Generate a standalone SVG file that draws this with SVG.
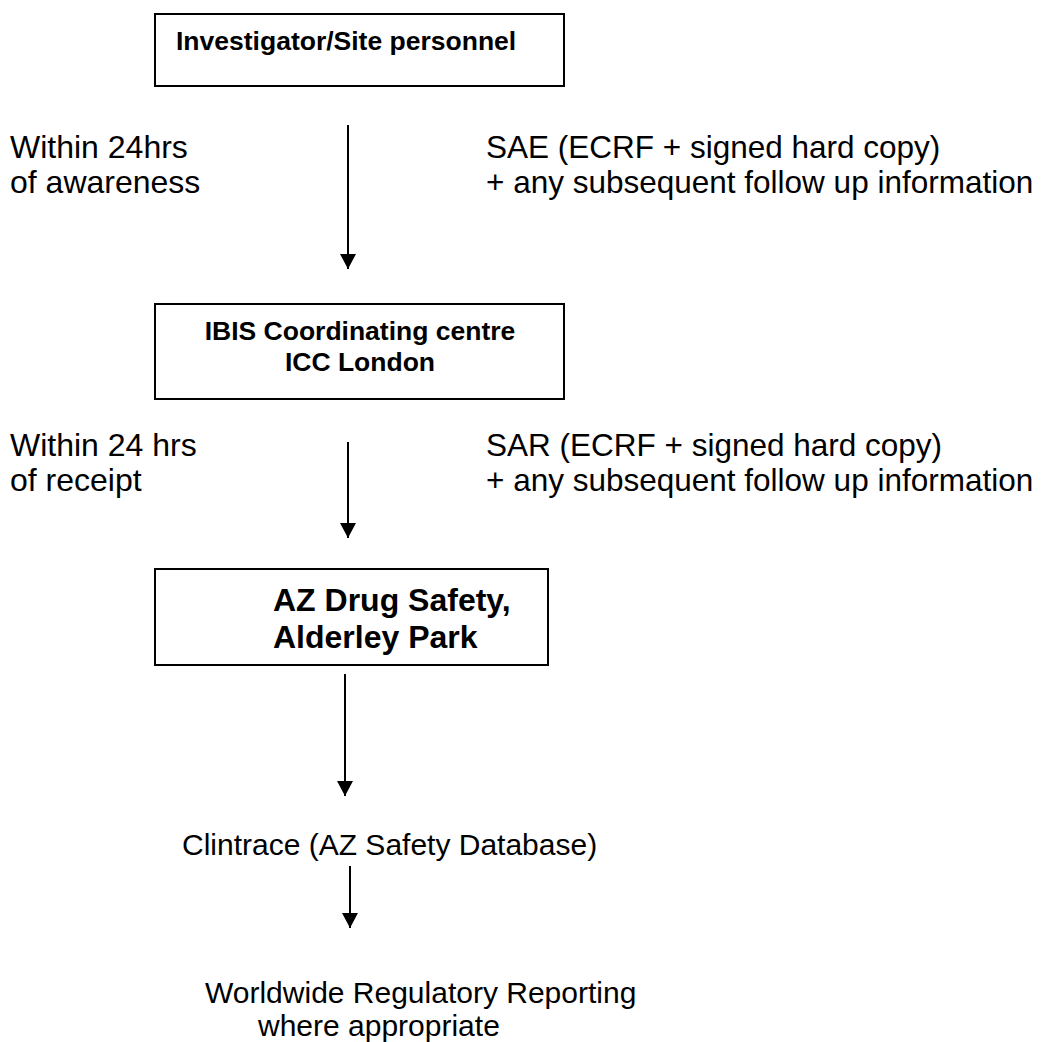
<svg xmlns="http://www.w3.org/2000/svg" width="1051" height="1042" viewBox="0 0 1051 1042">
<style>
.box{fill:#fff;stroke:#000;stroke-width:2}
.bt{font-family:"Liberation Sans",Arial,sans-serif;font-weight:bold;fill:#000}
.t{font-family:"Liberation Sans",Arial,sans-serif;fill:#000}
.ln{stroke:#000;stroke-width:2;fill:none}
</style>
<defs>
<marker id="ah" viewBox="0 0 15 16" refX="15" refY="8" markerWidth="15" markerHeight="16" markerUnits="userSpaceOnUse" orient="auto">
<path d="M0,0 L15,8 L0,16 Z" fill="#000"/>
</marker>
</defs>
<rect width="1051" height="1042" fill="#fff"/>
<g id="node-investigator">
<rect class="box" x="155" y="14" width="409" height="72"/>
<text class="bt" x="176" y="50" font-size="26.5">Investigator/Site personnel</text>
</g>
<g id="node-ibis">
<rect class="box" x="155" y="304" width="409" height="95"/>
<text class="bt" x="360" y="340" font-size="26.5" text-anchor="middle">IBIS Coordinating centre</text>
<text class="bt" x="360" y="371" font-size="26.5" text-anchor="middle">ICC London</text>
</g>
<g id="node-az">
<rect class="box" x="155" y="569" width="393" height="96"/>
<text class="bt" x="273" y="611" font-size="32">AZ Drug Safety,</text>
<text class="bt" x="273" y="648" font-size="32">Alderley Park</text>
</g>
<g id="node-clintrace">
<text class="t" x="182" y="855" font-size="30">Clintrace (AZ Safety Database)</text>
</g>
<g id="node-worldwide">
<text class="t" x="205" y="1003" font-size="30">Worldwide Regulatory Reporting</text>
<text class="t" x="258" y="1036" font-size="30">where appropriate</text>
</g>
<g id="labels">
<text class="t" x="10" y="158" font-size="32">Within 24hrs</text>
<text class="t" x="10" y="193" font-size="32">of awareness</text>
<text class="t" x="486" y="158" font-size="31.5">SAE (ECRF + signed hard copy)</text>
<text class="t" x="486" y="193" font-size="31.5">+ any subsequent follow up information</text>
<text class="t" x="10" y="456" font-size="32">Within 24 hrs</text>
<text class="t" x="10" y="491" font-size="32">of receipt</text>
<text class="t" x="486" y="456" font-size="31.5">SAR (ECRF + signed hard copy)</text>
<text class="t" x="486" y="491" font-size="31.5">+ any subsequent follow up information</text>
</g>
<g id="connectors">
<line class="ln" x1="348" y1="125" x2="348" y2="269" marker-end="url(#ah)"/>
<line class="ln" x1="348" y1="442" x2="348" y2="538" marker-end="url(#ah)"/>
<line class="ln" x1="345" y1="674" x2="345" y2="796" marker-end="url(#ah)"/>
<line class="ln" x1="350" y1="866" x2="350" y2="928" marker-end="url(#ah)"/>
</g>
</svg>
